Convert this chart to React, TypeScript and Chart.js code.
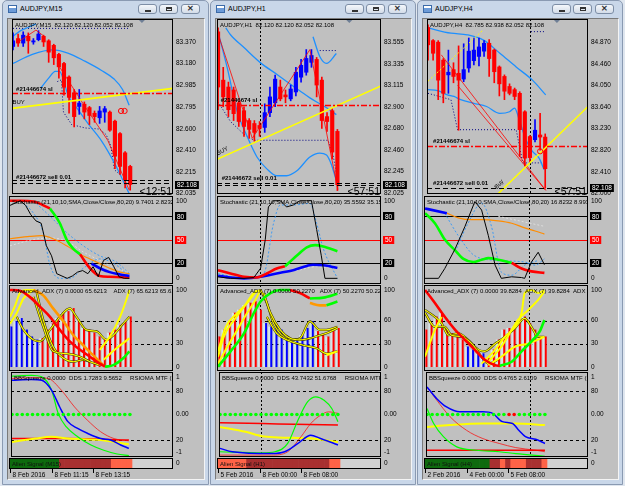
import React, { useEffect, useRef } from "react";
import { Chart, registerables } from "chart.js";

Chart.register(...registerables);

type Pt = [number, number];

/* ======================= AUDJPY,M15 ======================= */
const M15_TITLE = "AUDJPY,M15";
const M15_HEADER = "AUDJPY,M15  82.120 82.120 82.052 82.108";
const M15_STOCH_HEADER = "Stochastic (21,10,10,SMA,Close/Close,80,20) 9.7401 2.8232";
const M15_ADX_HEADER = "Advanced_ADX (7) 0.0000 65.6213    ADX (7) 65.6213 65.6213";
const M15_BB_HEADER = "BBSqueeze 0.0000  DDS 1.7283 9.5652     RSIOMA MTF (M15)";
const M15_ALIEN_TEXT = "Alien Signal (M15)";
const M15_COUNTDOWN = "<12:51";
const M15_OPEN = [83.33, 83.40, 83.36, 83.42, 83.37, 83.39, 83.42, 83.38, 83.34, 83.26, 83.18, 83.06, 82.92, 82.80, 82.82, 82.79, 82.74, 82.70, 82.75, 82.75, 82.67, 82.56, 82.39, 82.27];
const M15_HIGH = [83.45, 83.44, 83.46, 83.45, 83.40, 83.47, 83.43, 83.39, 83.35, 83.27, 83.19, 83.07, 82.95, 82.95, 82.84, 82.80, 82.76, 82.80, 82.80, 82.76, 82.68, 82.57, 82.40, 82.28];
const M15_LOW = [83.30, 83.33, 83.33, 83.27, 83.35, 83.38, 83.33, 83.19, 83.17, 83.05, 82.90, 82.74, 82.62, 82.73, 82.69, 82.64, 82.66, 82.65, 82.66, 82.58, 82.25, 82.20, 82.08, 82.06];
const M15_CLOSE = [83.38, 83.36, 83.43, 83.38, 83.38, 83.44, 83.37, 83.28, 83.23, 83.15, 82.97, 82.88, 82.71, 82.83, 82.75, 82.72, 82.71, 82.76, 82.78, 82.59, 82.36, 82.27, 82.15, 82.11];
const M15_PRICE_TICKS = [83.37, 83.18, 82.985, 82.795, 82.6, 82.41, 82.215, 82.035];
const M15_PRICE_RANGE = [82.026, 83.573];
const M15_BID = 82.108;
const M15_SL = 82.916;
const M15_SELL = [82.153, 82.124];
const M15_MID: Pt[] = [[0, 83.18], [3.8, 83.26], [7.7, 83.30], [10.9, 83.27], [14.1, 83.2], [17.3, 83.12], [19.9, 83.04], [21.5, 82.95], [22.8, 82.81]];
const M15_UPPER: Pt[] = [[0, 83.42], [1.5, 83.47], [3, 83.5], [4.5, 83.53]];
const M15_LOWER: Pt[] = [[5.4, 82.96], [7, 83.05], [8.3, 83.11], [9.1, 83.11], [10.9, 82.89], [12.8, 82.77], [14.7, 82.65], [17.3, 82.5], [19.9, 82.3], [22.8, 82.03]];
const M15_TREND: Pt[] = [[-0.2, 82.783], [31.4, 82.96]];
const M15_RED_A: Pt[] = [[1, 83.37], [4.5, 83.475], [6.1, 83.42]];
const M15_RED_B: Pt[] = [[8.7, 83.18], [14.1, 82.8], [18.6, 82.5], [22.8, 82.06]];
const M15_NAVY_TOP: Pt[] = [[0, 83.49], [22.8, 83.49]];
const M15_NAVY_LOW: Pt[] = [[8.7, 83.02], [9.5, 83.035], [9.9, 82.75], [11.5, 82.64], [14.1, 82.61], [17, 82.6], [18.3, 82.55], [19.2, 82.45], [19.9, 82.24], [21.2, 82.19]];
const M15_MARKS: Pt[] = [[21.2, 82.76], [21.9, 82.76]];
const M15_STO_MAIN: Pt[] = [[0, 94], [1, 97], [2, 100], [3, 94], [4, 82], [5, 74], [6, 71], [7, 42], [8, 29], [9, 6], [10, 3], [11, 0], [12, 3], [13, 8], [14, 10], [15, 6], [16, 15], [17, 2], [18, 23], [19, 27], [20, 15], [21, 2], [22, 0], [23, 0]];
const M15_STO_RED1: Pt[] = [[0, 100], [1.9, 100], [4.5, 99], [7.7, 90]];
const M15_STO_GREEN: Pt[] = [[7.7, 90], [9.6, 71], [10.9, 50], [12.2, 38], [13.5, 31]];
const M15_STO_RED2: Pt[] = [[13.5, 31], [14.1, 25], [15.4, 13], [17.3, 3], [19.2, 2], [23, 1]];
const M15_STO_BLUE: Pt[] = [[15.7, 19], [17.3, 13], [19.2, 8], [21.2, 5], [23, 3]];
const M15_STO_ORANGE: Pt[] = [[0, 51], [3.8, 54], [6.1, 55], [8.3, 51], [10.9, 42], [13.5, 31], [15.4, 25], [17.3, 19], [19.2, 13], [21.2, 8], [23, 6]];
const M15_STO_DOT1: Pt[] = [[1.9, 100], [4.5, 84], [6.4, 59], [7.7, 17], [9.6, 0], [11.5, 0], [14.1, 13], [17.3, 25], [20.5, 17], [23, 2]];
const M15_STO_DOT2: Pt[] = [[4.5, 100], [7.7, 80], [10.9, 59], [14.1, 42], [17.3, 29], [20.5, 21], [23, 6]];
const M15_STO_PALE: Pt[] = [[0, 42], [4.5, 50], [7.7, 52], [10.9, 48], [14.1, 34], [17.3, 23], [20.5, 13], [23, 8]];
const M15_ADX_HIST = [52, 59, 63, 48, 39, 35, 37, 48, 56, 63, 70, 72, 76, 61, 50, 48, 44, 39, 35, 44, 48, 54, 59, 65];
const M15_ADX_HIST_COL = "bbbbbbrrrrrrrrrrrrrrrrrr";
const M15_ADX_RED: Pt[] = [[0, 100], [1.9, 99], [3.8, 91], [5.8, 78], [7.7, 65], [9.6, 48], [11.5, 33], [13.5, 22], [15.4, 13], [17.3, 4], [18.3, 0]];
const M15_ADX_GREEN: Pt[] = [[18.3, 0], [19.9, 2], [21.8, 11], [23, 20]];
const M15_ADX_ORANGE: Pt[] = [[4.5, 100], [6.4, 93], [8.3, 76], [10.3, 59], [12.2, 41], [14.1, 28], [16, 15], [18, 2]];
const M15_ADX_Y: Pt[][] = [
  [[0, 65], [1, 80], [1.9, 96], [3.2, 100], [4.8, 100]],
  [[0, 56], [1.3, 70], [2.6, 89], [4.5, 100]],
  [[17.3, 22], [19.2, 39], [21.2, 65], [22.4, 87], [23, 100]],
  [[18, 9], [20.5, 24], [23, 37]],
];
const M15_ADX_K: Pt[][] = [
  [[1.3, 65], [2.6, 48], [4.5, 35], [5.8, 33], [7.7, 48], [9.6, 65], [11.5, 76], [12.8, 65], [14.7, 48], [16.7, 46], [18.6, 35], [19.9, 41], [21.8, 56], [23, 65]],
  [[5.1, 98], [6.4, 61], [8.3, 26], [10.3, 11], [12.2, 6.5], [14.1, 9], [16, 5], [17.3, 2]],
  [[4.5, 91], [6.4, 52], [8.3, 20], [10.9, 17], [13.5, 13], [15.4, 6.5]],
];
const M15_BB_BLUE: Pt[] = [[0, 0.91], [3.8, 0.93], [5.8, 0.91], [7.7, 0.65], [9.3, 0.2], [10.9, -0.19], [12.8, -0.37], [14.7, -0.5], [17.3, -0.64], [19.2, -0.68], [21.2, -0.81], [22.8, -0.9]];
const M15_BB_GREEN: Pt[] = [[0, 1.02], [3.8, 1.04], [5.8, 1.0], [7.7, 0.65], [9, 0.03], [10.6, -0.33], [12.8, -0.59], [15.4, -0.81], [17.9, -0.95], [20.5, -1.05], [22.8, -1.09]];
const M15_BB_RED_THIN: Pt[] = [[0, 0.96], [4.5, 0.98], [7, 0.96], [9.6, 0.65], [12.2, 0.2], [14.7, -0.15], [17.3, -0.46], [19.9, -0.64], [22.8, -0.7]];
const M15_BB_RED_THICK: Pt[] = [[0, -0.64], [10.9, -0.64], [22.8, -0.68]];
const M15_BB_YELLOW: Pt[] = [[0, -0.73], [4.5, -0.64], [7.7, -0.59], [10.9, -0.64], [17.3, -0.68], [22.8, -0.79]];
const M15_DOTS = "gggggggggggggggggggggggg";
const M15_ALIEN = "ggggggggggddddddddddllll";
const M15_XTICK_POS = [0, 8, 16];
const M15_XTICK_TEXT = ["8 Feb 2016", "8 Feb 11:15", "8 Feb 13:15"];

/* ======================= AUDJPY,H1 ======================= */
const H1_TITLE = "AUDJPY,H1";
const H1_HEADER = "AUDJPY,H1  82.120 82.120 82.052 82.108";
const H1_STOCH_HEADER = "Stochastic (21,10,10,SMA,Close/Close,80,20) 35.5592 35.1554";
const H1_ADX_HEADER = "Advanced_ADX (7) 0.0000 50.2270   ADX (7) 50.2270 50.2270";
const H1_BB_HEADER = "BBSqueeze 0.0000  DDS 43.7432 51.6768     RSIOMA MTF (H1)";
const H1_ALIEN_TEXT = "Alien Signal (H1)";
const H1_COUNTDOWN = "<57:51";
const H1_OPEN = [83.66, 83.17, 83.10, 83.07, 82.94, 82.86, 82.76, 82.73, 82.71, 82.69, 82.84, 82.94, 83.10, 83.02, 82.98, 83.05, 83.20, 83.25, 83.35, 83.38, 83.17, 82.80, 82.86, 82.65];
const H1_HIGH = [83.70, 83.30, 83.15, 83.10, 82.96, 82.90, 82.78, 82.76, 82.75, 82.93, 83.10, 83.22, 83.17, 83.07, 83.12, 83.30, 83.38, 83.48, 83.48, 83.40, 83.20, 82.84, 82.88, 82.67];
const H1_LOW = [82.87, 82.90, 82.80, 82.76, 82.70, 82.60, 82.58, 82.55, 82.60, 82.64, 82.80, 82.90, 82.96, 82.94, 82.96, 83.01, 83.15, 83.22, 83.30, 83.00, 82.68, 82.65, 82.37, 82.05];
const H1_CLOSE = [83.10, 83.00, 82.87, 82.83, 82.75, 82.70, 82.67, 82.64, 82.68, 82.84, 83.00, 83.18, 82.98, 83.00, 83.08, 83.25, 83.32, 83.39, 83.42, 83.12, 82.76, 82.75, 82.44, 82.11];
const H1_PRICE_TICKS = [83.555, 83.335, 83.115, 82.9, 82.68, 82.46, 82.245, 82.025];
const H1_PRICE_RANGE = [82.015, 83.79];
const H1_BID = 82.108;
const H1_SL = 82.92;
const H1_SELL = [82.13, 82.105];
const H1_PERIOD_SEP = 8;
const H1_MID: Pt[] = [[1.5, 83.7], [2.4, 83.63], [5, 83.5], [8.2, 83.345], [11.3, 83.23], [13.9, 83.13], [15.8, 83.06], [17.7, 82.99], [19.6, 82.93], [21.2, 82.88], [22.8, 82.82]];
const H1_LOWER: Pt[] = [[0, 83.66], [1.8, 83.29], [3.7, 82.85], [5.6, 82.6], [7.5, 82.39], [9.4, 82.27], [11.3, 82.2], [13.2, 82.2], [15.2, 82.25], [17.7, 82.39], [19.6, 82.43], [20.9, 82.41], [21.8, 82.32], [22.8, 82.15]];
const H1_UPPER: Pt[] = [[18.3, 83.61], [19.6, 83.41], [20.9, 83.34], [22.8, 83.44]];
const H1_TREND: Pt[] = [[-0.2, 82.367], [31.4, 83.111]];
const H1_RED_A: Pt[] = [[0, 83.64], [6.6, 82.58]];
const H1_RED_B: Pt[] = [[6.6, 82.58], [17.7, 83.48], [23.1, 82.06]];
const H1_NAVY_LOW: Pt[] = [[0, 82.95], [2.4, 82.75], [5, 82.62], [6.9, 82.56], [21.2, 82.56], [22.2, 82.4], [22.8, 82.22]];
const H1_NAVY_TOP: Pt[] = [[19.6, 83.47], [22.8, 83.47]];
const H1_STO_MAIN: Pt[] = [[-0.1, 2], [2.4, 0], [5, 0], [6.9, 1], [8.2, 13], [9.1, 50], [9.7, 92], [10.7, 100], [12, 100], [13.2, 92], [14.5, 94.5], [15.8, 100], [17.1, 100], [18, 100], [19, 63], [19.9, 29], [20.6, 0], [23, 0]];
const H1_STO_RED: Pt[] = [[0, 10.5], [2.4, 6.3], [5, 2], [7.5, 1], [9.4, 6.3], [11.3, 12.6], [12.9, 15.5]];
const H1_STO_GREEN: Pt[] = [[12.9, 15.5], [15.2, 29.4], [17.1, 40], [18.7, 42.8], [20.3, 41], [23, 35]];
const H1_STO_BLUE: Pt[] = [[0, 3.4], [2.4, 1], [5, 0], [8.2, 2], [11.3, 6.3], [14.5, 10.5], [17.1, 16], [18.3, 17.6], [20.3, 16.8], [23, 13.4]];
const H1_STO_DOT1: Pt[] = [[0, 6], [5, 0], [8.8, 6], [10.7, 71], [12, 94.5], [14.5, 94.5], [17.7, 96.6], [19, 71], [20.3, 38], [23, 0]];
const H1_STO_PALE: Pt[] = [[8.2, 2], [11.3, 6], [15.2, 10], [19, 15], [23, 12]];
const H1_ADX_HIST = [39, 48, 59, 70, 74, 80, 83, 85, 74, 56.5, 52, 54, 48, 37, 35, 35, 41, 50, 59, 46, 41, 39, 46, 50];
const H1_ADX_HIST_COL = "rrrrrrrrrbbbbbbbbbbrrrrr";
const H1_ADX_GREEN1: Pt[] = [[0, 0], [2.4, 20], [5, 43.5], [6.9, 70], [8.2, 85], [10.1, 96], [12, 100], [13.9, 100]];
const H1_ADX_RED: Pt[] = [[13.9, 100], [15.8, 96], [17.7, 89]];
const H1_ADX_GREEN2: Pt[] = [[17.7, 89], [20.3, 90], [23, 95]];
const H1_ADX_ORANGE: Pt[] = [[17.7, 83], [19.6, 80], [20.9, 80]];
const H1_ADX_GREEN3: Pt[] = [[20.9, 80], [23, 85]];
const H1_ADX_Y: Pt[][] = [
  [[0, 4], [1.8, 26], [3.7, 48], [5.6, 70], [7.2, 87], [8.2, 100]],
  [[0, 13], [1.1, 39], [3.1, 61], [5, 78], [6.9, 96], [8.2, 100]],
  [[0, 20], [1.5, 52], [3.7, 70], [5.6, 83], [7.5, 100]],
  [[20.9, 15], [23, 20]],
];
const H1_ADX_K: Pt[][] = [
  [[8.2, 100], [9.4, 83], [10.7, 56.5], [12.6, 39], [13.9, 35], [15.8, 37], [17.7, 59], [19.6, 48], [20.9, 48], [23, 52]],
  [[8.8, 96], [10.1, 70], [12, 48], [13.9, 37], [15.8, 35], [17.7, 37], [19.6, 41], [20.9, 43.5], [23, 50]],
  [[9.4, 65], [11.3, 43.5], [13.2, 35], [16.4, 28], [19, 24], [20.9, 17], [23, 20]],
];
const H1_BB_BLUE: Pt[] = [[0, -0.9], [2.4, -0.99], [10.1, -1.04], [12.6, -0.99], [15.2, -0.77], [17.7, -0.55], [19.6, -0.64], [21.5, -0.73], [23, -0.81]];
const H1_BB_GREEN: Pt[] = [[0, -0.99], [8.2, -1.02], [10.7, -0.99], [13.2, -0.77], [15.2, -0.15], [17.1, 0.34], [18.7, 0.47], [20.3, 0.38], [21.8, 0.16], [23, -0.19]];
const H1_BB_RED_THIN: Pt[] = [[0, -1.08], [10.1, -1.08], [13.2, -0.99], [15.8, -0.59], [17.7, -0.24], [19.6, -0.02], [21.2, 0.07], [23, 0.03]];
const H1_BB_RED_THICK: Pt[] = [[0, -0.22], [8.2, -0.24], [14.5, -0.26], [23, -0.28]];
const H1_BB_YELLOW: Pt[] = [[0, -0.33], [5, -0.46], [8.2, -0.58], [11.3, -0.61], [17.7, -0.64], [23, -0.73]];
const H1_DOTS = "gggggggggggggggggggggggg";
const H1_ALIEN = "llllllddddddddddddddddll";
const H1_XTICK_POS = [0, 8, 16];
const H1_XTICK_TEXT = ["5 Feb 2016", "8 Feb 00:00", "8 Feb 08:00"];

/* ======================= AUDJPY,H4 ======================= */
const H4_TITLE = "AUDJPY,H4";
const H4_HEADER = "AUDJPY,H4  82.785 82.938 82.052 82.108";
const H4_STOCH_HEADER = "Stochastic (21,10,10,SMA,Close/Close,80,20) 16.8232 8.9932";
const H4_ADX_HEADER = "Advanced_ADX (7) 0.0000 39.8284  ADX (7) 39.8284  ADX (7)";
const H4_BB_HEADER = "BBSqueeze 0.0000  DDS 0.4765 2.6109     RSIOMA MTF (H4)";
const H4_ALIEN_TEXT = "Alien Signal (H4)";
const H4_COUNTDOWN = "<57:51";
const H4_OPEN = [85.15, 84.90, 84.87, 84.53, 84.25, 84.35, 84.28, 84.17, 84.38, 84.52, 84.60, 84.70, 84.85, 84.72, 84.40, 84.22, 84.03, 83.97, 83.90, 83.55, 83.08, 83.02, 83.11, 83.07];
const H4_HIGH = [85.20, 84.92, 84.90, 84.56, 84.72, 84.48, 84.80, 84.84, 84.95, 84.95, 84.95, 84.90, 84.92, 84.74, 84.42, 84.25, 84.08, 84.00, 83.93, 83.57, 83.10, 83.40, 83.52, 83.13];
const H4_LOW = [84.53, 84.53, 83.78, 83.72, 83.90, 84.10, 83.20, 84.12, 84.30, 84.44, 84.42, 84.60, 84.22, 84.10, 83.85, 83.78, 83.87, 83.78, 82.70, 82.52, 82.60, 82.98, 82.82, 82.10];
const H4_CLOSE = [84.82, 84.66, 84.15, 83.90, 84.30, 84.22, 84.15, 84.35, 84.70, 84.72, 84.78, 84.85, 84.56, 84.31, 84.08, 83.94, 83.90, 83.84, 83.21, 82.67, 82.68, 83.20, 83.07, 82.47];
const H4_PRICE_TICKS = [84.87, 84.46, 84.05, 83.64, 83.23, 82.82, 82.41, 82.0];
const H4_PRICE_RANGE = [81.99, 85.31];
const H4_BID = 82.108;
const H4_SL = 82.908;
const H4_SELL = [82.1];
const H4_PERIOD_SEP = 20;
const H4_UPPER: Pt[] = [[0, 85.14], [4.5, 85.04], [7.7, 85.01], [10.9, 84.91], [14.1, 84.66], [17.3, 84.4], [20.5, 84.15], [23.1, 83.87]];
const H4_LOWER: Pt[] = [[0, 83.97], [1.9, 83.95], [3.8, 83.87], [5.1, 83.84], [6.4, 83.78], [9, 83.71], [11.5, 83.65], [14.1, 83.52], [16, 83.55], [17, 83.62], [17.9, 83.4], [19.2, 83.02], [20.5, 82.8], [21.8, 82.67], [22.8, 82.45]];
const H4_TREND: Pt[] = [[13.8, 82.0], [31.4, 83.65]];
const H4_TREND_DOT: Pt[] = [[0, 84.13], [10.9, 85.11]];
const H4_RED_A: Pt[] = [[2.6, 84.63], [23.1, 82.06]];
const H4_RED_B: Pt[] = [[5.8, 84.05], [23.1, 82.06]];
const H4_NAVY_LOW: Pt[] = [[0, 83.9], [4.5, 83.78], [5.8, 83.21], [17.3, 83.21], [18.6, 82.58], [22.8, 82.58]];
const H4_NAVY_TOP: Pt[] = [[20.2, 85.07], [23.1, 85.07]];
const H4_MARKS: Pt[] = [[22, 82.8]];
const H4_STO_MAIN: Pt[] = [[0, 0], [2.6, 0], [3.8, 12.6], [5.8, 38], [7.7, 67], [9.6, 99], [10.9, 88], [12.2, 55], [13.5, 17], [14.7, 0], [16.7, 2], [18.6, 1], [19.2, 0], [20.5, 21], [21.8, 33.6], [23, 17.6]];
const H4_STO_BLUE: Pt[] = [[0, 90], [4.2, 84]];
const H4_STO_ORANGE: Pt[] = [[4.2, 84], [6.4, 78], [9, 75.6], [10.9, 75.6], [14.1, 74], [16.7, 71], [19.2, 65], [21.2, 61], [23, 57]];
const H4_STO_GREEN: Pt[] = [[0, 84], [1.9, 71], [3.8, 50], [5.8, 36], [7.4, 25], [9.3, 21], [10.9, 24], [12.2, 26], [14.1, 24], [16.7, 20]];
const H4_STO_RED: Pt[] = [[16.7, 20], [18.6, 12.6], [20.5, 9], [23, 7]];
const H4_STO_DOT1: Pt[] = [[3.8, 84], [6.4, 55], [9.6, 29], [14.1, 23], [19.2, 21], [21.2, 17], [23, 25]];
const H4_STO_DOT2: Pt[] = [[5.8, 34], [8.3, 71], [10.9, 97], [12.8, 67], [14.7, 8], [16.7, 4], [19.2, 17], [21.8, 23]];
const H4_STO_PALE: Pt[] = [[14.1, 80], [23, 67]];
const H4_ADX_HIST = [48, 56.5, 65, 70, 48, 43.5, 39, 35, 26, 22, 17, 17, 11, 22, 35, 48, 50, 52, 61, 65, 56.5, 48, 39, 39];
const H4_ADX_HIST_COL = "rrrrrrrrbbbbrrrrrrrrrrrr";
const H4_ADX_RED: Pt[] = [[0, 100], [1.9, 83], [3.8, 65], [5.8, 48], [7.7, 35], [9.6, 22], [11.5, 9], [13.5, 2], [14.4, 1]];
const H4_ADX_GREEN: Pt[] = [[14.4, 1], [16.7, 6.5], [18.6, 20], [20.5, 33], [22.1, 46], [23, 61]];
const H4_ADX_Y: Pt[][] = [
  [[0, 13], [1.9, 48], [3.2, 65]],
  [[10.9, 4], [13.5, 22], [15.4, 39], [17.3, 52], [18.6, 70], [19.2, 96], [20.5, 100], [21.8, 96], [23, 100]],
  [[12.2, 6.5], [14.7, 26], [16.7, 48], [17.9, 61], [19.9, 74], [21.8, 87], [23, 98]],
  [[12.2, 2], [14.7, 13], [17.3, 26], [19.9, 30], [23, 39]],
];
const H4_ADX_K: Pt[][] = [
  [[0, 74], [1.9, 65], [3.2, 56.5], [4.5, 41], [6.4, 43.5], [8.3, 35], [10.3, 22], [11.5, 20], [13.5, 30], [15.4, 39], [17.3, 50], [19.2, 63], [20.5, 52], [21.8, 39], [23, 39]],
  [[0, 70], [1.9, 52], [3.8, 52], [5.1, 41], [7, 39], [9, 30], [10.9, 13], [12.2, 4], [14.1, 9]],
];
const H4_BB_BLUE: Pt[] = [[0, 0.73], [1.9, 0.42], [3.8, 0.2], [6.4, 0.07], [10.9, 0.07], [12.8, 0.03], [14.7, -0.19], [16.7, -0.24], [17.9, -0.42], [19.2, -0.59], [21.2, -0.66], [23, -0.77]];
const H4_BB_GREEN: Pt[] = [[0, 0.16], [1.3, -0.24], [3.2, -0.59], [5.8, -0.86], [9.6, -0.95], [14.1, -0.99], [17.3, -1.04], [23, -1.11]];
const H4_BB_RED_THIN: Pt[] = [[0, 0.73], [1.9, 0.38], [4.5, -0.06], [7.7, -0.42], [10.9, -0.64], [14.1, -0.77], [17.3, -0.88], [21.2, -0.95], [23, -0.99]];
const H4_BB_RED_THICK: Pt[] = [[0, -0.95], [23, -0.95]];
const H4_BB_YELLOW: Pt[] = [[0, -0.33], [4.5, -0.28], [10.9, -0.24], [17.3, -0.24], [23, -0.28]];
const H4_DOTS = "ggggggggggggggggrrgggggg";
const H4_ALIEN = "gggggggggggggddldllldddl";
const H4_XTICK_POS = [0, 8, 16];
const H4_XTICK_TEXT = ["2 Feb 2016", "4 Feb 00:00", "5 Feb 08:00"];

/* ======================= shared ======================= */
const STO_TICKS = [100, 0];
const ADX_TICKS = [100, 60, 30, 0];
const BB_TICKS = [1, 0.628, 0, -0.69, -1];
const BB_TICK_TEXT = ["1", "80", "0.00", "20", "-1"];
const SHIFT_MARK = 25.3;

const FONT = '"Liberation Sans", Arial, sans-serif';
const BULL = "#0000ff";
const BEAR = "#ff0000";
const CHART_BG = "#c0c0c0";
const PAGE_BG = "#dfe6ef";
const FRAME_BG = "#c9d7e9";
const ALIEN_COL: any = { g: "#0e6a0e", d: "#a83030", l: "#ff6347" };
const HIST_COL: any = { b: "#0000ff", r: "#ff0000" };
const DOT_COL: any = { g: "#00ff00", r: "#ff0000" };
const X_MIN = -0.2;
const X_MAX = 31.4;

function hline(ctx: any, a: any, ys: any, l: any) {
  const py = Math.round(ys.getPixelForValue(l.v)) + 0.5;
  ctx.strokeStyle = l.color;
  ctx.lineWidth = l.width || 1;
  ctx.setLineDash(l.dash || []);
  ctx.beginPath();
  ctx.moveTo(a.left, py);
  ctx.lineTo(a.right, py);
  ctx.stroke();
}

const mt4Plugin: any = {
  id: "mt4",
  beforeDatasetsDraw(chart: any, _a: any, o: any) {
    const { ctx, chartArea: a } = chart;
    const xs = chart.scales.x;
    const ys = chart.scales.y;
    ctx.save();
    if (o.areaBg) {
      ctx.fillStyle = o.areaBg;
      ctx.fillRect(a.left, a.top, a.right - a.left, a.bottom - a.top);
    }
    ctx.beginPath();
    ctx.rect(a.left, a.top, a.right - a.left, a.bottom - a.top);
    ctx.clip();
    for (const l of o.levels || []) hline(ctx, a, ys, l);
    if (o.vline != null) {
      const px = Math.round(xs.getPixelForValue(o.vline)) + 0.5;
      ctx.strokeStyle = "#000";
      ctx.lineWidth = 1;
      ctx.setLineDash([2, 2]);
      ctx.beginPath();
      ctx.moveTo(px, a.top);
      ctx.lineTo(px, a.bottom);
      ctx.stroke();
    }
    ctx.restore();
  },
  afterDatasetsDraw(chart: any, _a: any, o: any) {
    const { ctx, chartArea: a } = chart;
    const xs = chart.scales.x;
    const ys = chart.scales.y;
    ctx.save();
    ctx.beginPath();
    ctx.rect(a.left, a.top, a.right - a.left, a.bottom - a.top);
    ctx.clip();
    for (const l of o.overLevels || []) hline(ctx, a, ys, l);
    ctx.setLineDash([]);
    ctx.fillStyle = "#000";
    if (o.header) {
      ctx.font = `6px ${FONT}`;
      ctx.textAlign = "left";
      ctx.textBaseline = "top";
      ctx.fillText(o.header, a.left + 3, a.top + 3);
    }
    if (o.sideText) {
      ctx.font = `6px ${FONT}`;
      ctx.textAlign = "left";
      ctx.textBaseline = "middle";
      ctx.fillStyle = "#111";
      ctx.fillText(o.sideText, a.left + 3, (a.top + a.bottom) / 2 + 0.5);
    }
    for (const t of o.texts || []) {
      const px = xs.getPixelForValue(t.x);
      const py = ys.getPixelForValue(t.y);
      ctx.save();
      ctx.translate(px, py);
      if (t.rot) ctx.rotate(t.rot);
      ctx.font = `${t.bold ? "bold " : ""}6px ${FONT}`;
      ctx.fillStyle = "#000";
      ctx.textAlign = "left";
      ctx.textBaseline = "middle";
      ctx.fillText(t.t, 0, 0);
      ctx.restore();
    }
    if (o.shift != null) {
      const px = xs.getPixelForValue(o.shift);
      ctx.fillStyle = "#6f7f96";
      ctx.beginPath();
      ctx.moveTo(px - 3, a.top + 1);
      ctx.lineTo(px + 3, a.top + 1);
      ctx.lineTo(px, a.top + 4);
      ctx.closePath();
      ctx.fill();
    }
    ctx.restore();

    ctx.save();
    ctx.strokeStyle = "#000";
    ctx.lineWidth = 1;
    ctx.setLineDash([]);
    ctx.strokeRect(a.left + 0.5, a.top + 0.5, a.right - a.left - 1, a.bottom - a.top - 1);
    if (o.countdown) {
      ctx.font = `10.5px ${FONT}`;
      ctx.textAlign = "right";
      ctx.textBaseline = "alphabetic";
      ctx.fillStyle = "#000";
      ctx.fillText(o.countdown, a.right - 1, a.bottom + 1);
    }
    for (const b of o.boxes || []) {
      const py = ys.getPixelForValue(b.v);
      ctx.font = `6.5px ${FONT}`;
      const w = ctx.measureText(b.t).width + 4;
      ctx.fillStyle = b.bg;
      ctx.fillRect(a.right + 2, Math.round(py) - 4, w, 8);
      ctx.fillStyle = b.fg;
      ctx.textAlign = "left";
      ctx.textBaseline = "middle";
      ctx.fillText(b.t, a.right + 4, py + 0.5);
    }
    if (o.xPos) {
      ctx.font = `6.5px ${FONT}`;
      ctx.fillStyle = "#000";
      ctx.textAlign = "left";
      ctx.textBaseline = "top";
      o.xPos.forEach((p: number, i: number) => {
        const px = Math.round(xs.getPixelForValue(p)) + 0.5;
        ctx.beginPath();
        ctx.moveTo(px, a.bottom);
        ctx.lineTo(px, a.bottom + 4);
        ctx.stroke();
        ctx.fillText(o.xText[i], px + 2, a.bottom + 3);
      });
    }
    ctx.restore();
  },
};

function L(pts: Pt[], color: string, width = 1, extra: any = {}) {
  return {
    type: "line",
    data: pts.map(([x, y]) => ({ x, y })),
    borderColor: color,
    borderWidth: width,
    pointRadius: 0,
    fill: false,
    tension: 0,
    cubicInterpolationMode: "monotone",
    clip: 0,
    ...extra,
  };
}
function STRAIGHT(pts: Pt[], color: string, width = 1, extra: any = {}) {
  return L(pts, color, width, { cubicInterpolationMode: "default", ...extra });
}
function candleSets(o: number[], h: number[], l: number[], c: number[]) {
  const col = c.map((v, i) => (v >= o[i] ? BULL : BEAR));
  return [
    { type: "bar", data: o.map((_, i) => ({ x: i, y: [l[i], h[i]] })), backgroundColor: col, maxBarThickness: 1, grouped: false, barPercentage: 1, categoryPercentage: 1, clip: 0 },
    { type: "bar", data: o.map((v, i) => ({ x: i, y: [v, c[i]] })), backgroundColor: col, maxBarThickness: 3.5, grouped: false, barPercentage: 1, categoryPercentage: 1, clip: 0 },
  ];
}
function histSets(vals: number[], codes: string) {
  return [
    { type: "bar", data: vals.map((v, i) => ({ x: i, y: v })), backgroundColor: vals.map((_, i) => HIST_COL[codes[i]]), barThickness: 2, grouped: true, clip: 0 },
    { type: "bar", data: vals.map((v, i) => ({ x: i, y: v })), backgroundColor: "#d5e4ea", barThickness: 1.5, grouped: true, clip: 0 },
  ];
}
function kSets(lines: Pt[][]) {
  const out: any[] = [];
  for (const p of lines) {
    out.push(L(p, "#3d3600", 2.2));
    out.push(L(p, "#ffff00", 1.1));
  }
  return out;
}
function ordered(sets: any[]) {
  const n = sets.length;
  return sets.map((d, i) => ({ ...d, order: n - i }));
}

function opts(yMin: number, yMax: number, ticks: number[], labels: string[], axisW: number, padTop: number, padBottom: number, mt4: any) {
  return {
    responsive: false,
    animation: false,
    devicePixelRatio: 1,
    events: [],
    layout: { padding: { left: 2, right: 0, top: padTop, bottom: padBottom } },
    plugins: { legend: { display: false }, tooltip: { enabled: false }, mt4 },
    scales: {
      x: { type: "linear", min: X_MIN, max: X_MAX, display: false, offset: false },
      y: {
        type: "linear",
        position: "right",
        min: yMin,
        max: yMax,
        grid: { display: false, drawTicks: false },
        border: { display: false },
        afterFit: (s: any) => {
          s.width = axisW;
        },
        afterBuildTicks: (s: any) => {
          s.ticks = ticks.map((v) => ({ value: v }));
        },
        ticks: {
          autoSkip: false,
          padding: 3,
          color: "#000",
          font: { family: FONT, size: 6.5 },
          callback: (_v: any, i: number) => labels[i],
        },
      },
    },
  };
}

const PANE_Y: any = { price: [19, 194], stoch: [196, 284], adx: [285, 371], bb: [372, 457], alien: [458, 469] };
const PAD = 7;

const WINDOWS = [
  { frameL: 2, frameW: 207, innerL: 7, innerW: 198, axisW: 32 },
  { frameL: 210, frameW: 206, innerL: 215, innerW: 197, axisW: 31 },
  { frameL: 417, frameW: 206, innerL: 422, innerW: 197, axisW: 31 },
];

function pricePane(s: any, axisW: number) {
  const sets = ordered([
    ...s.navy.map((p: Pt[]) => STRAIGHT(p, "#000080", 1, { borderDash: [1, 2] })),
    ...s.bands.map((p: Pt[]) => L(p, "#1e90ff", 1.3)),
    ...candleSets(s.open, s.high, s.low, s.close),
    ...s.redThin.map((p: Pt[]) => STRAIGHT(p, "#ff0000", 0.8)),
    ...(s.trendDot ? [STRAIGHT(s.trendDot, "#ffff00", 1, { borderDash: [2, 2] })] : []),
    STRAIGHT(s.trend, "#ffff00", 1.6),
    ...(s.marks
      ? [{ type: "line", data: s.marks.map(([x, y]: Pt) => ({ x, y })), showLine: false, pointRadius: 2.6, pointBorderColor: "#ff0000", pointBackgroundColor: "rgba(0,0,0,0)", pointBorderWidth: 1, clip: 0 }]
      : []),
  ]);
  const [t, b] = PANE_Y.price;
  return {
    top: t - PAD,
    height: b - t + 2 * PAD,
    config: {
      type: "line",
      data: { datasets: sets },
      options: opts(s.range[0], s.range[1], s.ticks, s.ticks.map((v: number) => v.toFixed(3)), axisW, PAD, PAD, {
        header: s.header,
        vline: s.vline,
        overLevels: [
          { v: s.sl, color: "#ff0000", width: 1.5, dash: [6, 2, 2, 2] },
          ...s.sell.map((v: number) => ({ v, color: "#000", width: 1, dash: [5, 3] })),
        ],
        texts: s.texts,
        boxes: [{ v: s.bid, t: s.bid.toFixed(3), bg: "#000", fg: "#fff" }],
        countdown: s.countdown,
        shift: SHIFT_MARK,
      }),
    },
  };
}

function stochPane(s: any, axisW: number) {
  const sets = ordered([
    ...s.stoPale.map((p: Pt[]) => L(p, "#e4e4e4", 0.8, { borderDash: [2, 2] })),
    ...s.stoDots.map((p: Pt[]) => L(p, "#1e90ff", 0.8, { borderDash: [2, 2] })),
    ...s.stoThin.map((d: any) => L(d.p, d.c, 1.2)),
    ...s.stoThick.map((d: any) => L(d.p, d.c, 2.6)),
    STRAIGHT(s.stoMain, "#000", 1),
  ]);
  const [t, b] = PANE_Y.stoch;
  return {
    top: t - PAD,
    height: b - t + 2 * PAD,
    config: {
      type: "line",
      data: { datasets: sets },
      options: opts(-7.3, 106.1, STO_TICKS, STO_TICKS.map(String), axisW, PAD, PAD, {
        header: s.stochHeader,
        vline: s.vline,
        levels: [
          { v: 80, color: "#000", width: 1 },
          { v: 20, color: "#000", width: 1 },
          { v: 50, color: "#ff0000", width: 1.2 },
        ],
        boxes: [
          { v: 80, t: "80", bg: "#000", fg: "#fff" },
          { v: 50, t: "50", bg: "#ff0000", fg: "#fff" },
          { v: 20, t: "20", bg: "#000", fg: "#fff" },
        ],
      }),
    },
  };
}

function adxPane(s: any, axisW: number) {
  const sets = ordered([
    ...histSets(s.adxHist, s.adxHistCol),
    ...kSets(s.adxK),
    ...s.adxY.map((p: Pt[]) => L(p, "#ffff00", 2)),
    ...s.adxThick.map((d: any) => L(d.p, d.c, 2.6)),
  ]);
  const [t, b] = PANE_Y.adx;
  return {
    top: t - PAD,
    height: b - t + 2 * PAD,
    config: {
      type: "line",
      data: { datasets: sets },
      options: opts(-5.6, 106.5, ADX_TICKS, ADX_TICKS.map(String), axisW, PAD, PAD, {
        header: s.adxHeader,
        vline: s.vline,
        levels: [
          { v: 60, color: "#000", width: 1, dash: [3, 3] },
          { v: 30, color: "#000", width: 1, dash: [3, 3] },
        ],
      }),
    },
  };
}

function bbPane(s: any, axisW: number) {
  const codes: string = s.dots;
  const sets = ordered([
    L(s.bbRedThick, "#ff0000", 1.5),
    L(s.bbYellow, "#ffff00", 2),
    L(s.bbRedThin, "#ff0000", 0.7),
    L(s.bbGreen, "#00ff00", 1.2),
    L(s.bbBlue, "#0000ff", 1.5),
    {
      type: "line",
      data: codes.split("").map((_, i) => ({ x: i, y: 0 })),
      showLine: false,
      pointRadius: 1.8,
      pointBorderWidth: 0,
      pointBackgroundColor: codes.split("").map((c) => DOT_COL[c]),
      clip: 0,
    },
  ]);
  const [t, b] = PANE_Y.bb;
  return {
    top: t - PAD,
    height: b - t + 2 * PAD,
    config: {
      type: "line",
      data: { datasets: sets },
      options: opts(-1.13, 1.13, BB_TICKS, BB_TICK_TEXT, axisW, PAD, PAD, {
        header: s.bbHeader,
        vline: s.vline,
        levels: [
          { v: 0.628, color: "#000", width: 1, dash: [3, 3] },
          { v: -0.69, color: "#000", width: 1, dash: [3, 3] },
        ],
      }),
    },
  };
}

function alienPane(s: any, axisW: number) {
  const codes: string = s.alien;
  const sets = [
    {
      type: "bar",
      data: codes.split("").map((_, i) => ({ x: i, y: 1 })),
      backgroundColor: codes.split("").map((c) => ALIEN_COL[c]),
      grouped: false,
      barPercentage: 1,
      categoryPercentage: 1,
      clip: 0,
    },
  ];
  const [t, b] = PANE_Y.alien;
  return {
    top: t - PAD,
    height: b - t + PAD + 14,
    config: {
      type: "line",
      data: { datasets: sets },
      options: opts(0, 1, [0.5], ["0"], axisW, PAD, 14, {
        areaBg: "#d2d2d2",
        sideText: s.alienText,
        xPos: s.xPos,
        xText: s.xText,
      }),
    },
  };
}

const SPECS: any[] = [
  {
    title: M15_TITLE, header: M15_HEADER, stochHeader: M15_STOCH_HEADER, adxHeader: M15_ADX_HEADER, bbHeader: M15_BB_HEADER,
    alienText: M15_ALIEN_TEXT, countdown: M15_COUNTDOWN,
    open: M15_OPEN, high: M15_HIGH, low: M15_LOW, close: M15_CLOSE,
    range: M15_PRICE_RANGE, ticks: M15_PRICE_TICKS, bid: M15_BID, sl: M15_SL, sell: M15_SELL, vline: null,
    navy: [M15_NAVY_TOP, M15_NAVY_LOW], bands: [M15_MID, M15_UPPER, M15_LOWER], redThin: [M15_RED_A, M15_RED_B],
    trend: M15_TREND, marks: M15_MARKS,
    texts: [
      { t: "#21446674 sl", x: 0.6, y: 82.955, bold: true },
      { t: "BUY", x: -0.1, y: 82.84 },
      { t: "#21446672 sell 0.01", x: 0.6, y: 82.175, bold: true },
    ],
    stoMain: M15_STO_MAIN,
    stoThick: [{ p: M15_STO_RED1, c: "#ff0000" }, { p: M15_STO_GREEN, c: "#00ff00" }, { p: M15_STO_RED2, c: "#ff0000" }, { p: M15_STO_BLUE, c: "#0000ff" }],
    stoThin: [{ p: M15_STO_ORANGE, c: "#ff8c00" }],
    stoDots: [M15_STO_DOT1, M15_STO_DOT2], stoPale: [M15_STO_PALE],
    adxHist: M15_ADX_HIST, adxHistCol: M15_ADX_HIST_COL, adxK: M15_ADX_K, adxY: M15_ADX_Y,
    adxThick: [{ p: M15_ADX_ORANGE, c: "#ff9900" }, { p: M15_ADX_RED, c: "#ff0000" }, { p: M15_ADX_GREEN, c: "#00ff00" }],
    bbBlue: M15_BB_BLUE, bbGreen: M15_BB_GREEN, bbRedThin: M15_BB_RED_THIN, bbRedThick: M15_BB_RED_THICK, bbYellow: M15_BB_YELLOW,
    dots: M15_DOTS, alien: M15_ALIEN, xPos: M15_XTICK_POS, xText: M15_XTICK_TEXT,
  },
  {
    title: H1_TITLE, header: H1_HEADER, stochHeader: H1_STOCH_HEADER, adxHeader: H1_ADX_HEADER, bbHeader: H1_BB_HEADER,
    alienText: H1_ALIEN_TEXT, countdown: H1_COUNTDOWN,
    open: H1_OPEN, high: H1_HIGH, low: H1_LOW, close: H1_CLOSE,
    range: H1_PRICE_RANGE, ticks: H1_PRICE_TICKS, bid: H1_BID, sl: H1_SL, sell: H1_SELL, vline: H1_PERIOD_SEP,
    navy: [H1_NAVY_TOP, H1_NAVY_LOW], bands: [H1_MID, H1_UPPER, H1_LOWER], redThin: [H1_RED_A, H1_RED_B],
    trend: H1_TREND, marks: null,
    texts: [
      { t: "#21446674 sl", x: 0.5, y: 82.965, bold: true },
      { t: "BUY", x: -0.2, y: 82.42, rot: -0.5 },
      { t: "#21446672 sell 0.01", x: 0.7, y: 82.17, bold: true },
    ],
    stoMain: H1_STO_MAIN,
    stoThick: [{ p: H1_STO_BLUE, c: "#0000ff" }, { p: H1_STO_RED, c: "#ff0000" }, { p: H1_STO_GREEN, c: "#00ff00" }],
    stoThin: [],
    stoDots: [H1_STO_DOT1], stoPale: [H1_STO_PALE],
    adxHist: H1_ADX_HIST, adxHistCol: H1_ADX_HIST_COL, adxK: H1_ADX_K, adxY: H1_ADX_Y,
    adxThick: [
      { p: H1_ADX_GREEN1, c: "#00ff00" }, { p: H1_ADX_RED, c: "#ff0000" }, { p: H1_ADX_GREEN2, c: "#00ff00" },
      { p: H1_ADX_ORANGE, c: "#ff9900" }, { p: H1_ADX_GREEN3, c: "#00ff00" },
    ],
    bbBlue: H1_BB_BLUE, bbGreen: H1_BB_GREEN, bbRedThin: H1_BB_RED_THIN, bbRedThick: H1_BB_RED_THICK, bbYellow: H1_BB_YELLOW,
    dots: H1_DOTS, alien: H1_ALIEN, xPos: H1_XTICK_POS, xText: H1_XTICK_TEXT,
  },
  {
    title: H4_TITLE, header: H4_HEADER, stochHeader: H4_STOCH_HEADER, adxHeader: H4_ADX_HEADER, bbHeader: H4_BB_HEADER,
    alienText: H4_ALIEN_TEXT, countdown: H4_COUNTDOWN,
    open: H4_OPEN, high: H4_HIGH, low: H4_LOW, close: H4_CLOSE,
    range: H4_PRICE_RANGE, ticks: H4_PRICE_TICKS, bid: H4_BID, sl: H4_SL, sell: H4_SELL, vline: H4_PERIOD_SEP,
    navy: [H4_NAVY_TOP, H4_NAVY_LOW], bands: [H4_UPPER, H4_LOWER], redThin: [H4_RED_A, H4_RED_B],
    trend: H4_TREND, trendDot: H4_TREND_DOT, marks: H4_MARKS,
    texts: [
      { t: "#21446674 sl", x: 1.0, y: 82.98, bold: true },
      { t: "Buy", x: 13.3, y: 82.1, rot: -0.85 },
      { t: "#21446672 sell 0.01", x: 1.0, y: 82.2, bold: true },
    ],
    stoMain: H4_STO_MAIN,
    stoThick: [{ p: H4_STO_GREEN, c: "#00ff00" }, { p: H4_STO_RED, c: "#ff0000" }, { p: H4_STO_BLUE, c: "#0000ff" }],
    stoThin: [{ p: H4_STO_ORANGE, c: "#ff8c00" }],
    stoDots: [H4_STO_DOT1, H4_STO_DOT2], stoPale: [H4_STO_PALE],
    adxHist: H4_ADX_HIST, adxHistCol: H4_ADX_HIST_COL, adxK: H4_ADX_K, adxY: H4_ADX_Y,
    adxThick: [{ p: H4_ADX_RED, c: "#ff0000" }, { p: H4_ADX_GREEN, c: "#00ff00" }],
    bbBlue: H4_BB_BLUE, bbGreen: H4_BB_GREEN, bbRedThin: H4_BB_RED_THIN, bbRedThick: H4_BB_RED_THICK, bbYellow: H4_BB_YELLOW,
    dots: H4_DOTS, alien: H4_ALIEN, xPos: H4_XTICK_POS, xText: H4_XTICK_TEXT,
  },
];

function Pane({ left, top, width, height, config }: any) {
  const ref = useRef<HTMLCanvasElement>(null);
  useEffect(() => {
    const chart = new Chart(ref.current as HTMLCanvasElement, { ...config, plugins: [mt4Plugin] } as any);
    return () => chart.destroy();
  }, []);
  return <canvas ref={ref} width={width} height={height} style={{ position: "absolute", left, top, width, height }} />;
}

function Btn({ left, kind }: any) {
  return (
    <div
      style={{
        position: "absolute", left, top: 4, width: 19, height: 10, boxSizing: "border-box",
        border: "1px solid #7d8ea6", borderRadius: 3,
        background: "linear-gradient(#f4f7fb, #d3dce8)",
      }}
    >
      {kind === "min" && <div style={{ position: "absolute", left: 6, top: 5, width: 6, height: 2, background: "#333" }} />}
      {kind === "max" && (
        <div style={{ position: "absolute", left: 6, top: 2, width: 6, height: 4, boxSizing: "border-box", border: "1px solid #333", borderTopWidth: 2 }} />
      )}
      {kind === "close" && (
        <div style={{ position: "absolute", left: 0, top: -1, width: 17, textAlign: "center", font: `bold 8px ${FONT}`, color: "#333", lineHeight: "10px" }}>✕</div>
      )}
    </div>
  );
}

function ChartWindow({ w, s }: any) {
  const panes = [pricePane(s, w.axisW), stochPane(s, w.axisW), adxPane(s, w.axisW), bbPane(s, w.axisW), alienPane(s, w.axisW)];
  const right = w.frameL + w.frameW;
  return (
    <>
      <div
        style={{
          position: "absolute", left: w.frameL, top: 0, width: w.frameW, height: 485, boxSizing: "border-box",
          background: FRAME_BG, border: "1px solid #8a9ab2", borderRadius: "5px 5px 0 0",
        }}
      />
      <div
        style={{
          position: "absolute", left: w.frameL + 6, top: 5, width: 9, height: 8, boxSizing: "border-box",
          border: "1px solid #3b6aa8", background: "linear-gradient(#ffffff 40%, #6c9bd8 40%)",
        }}
      />
      <div style={{ position: "absolute", left: w.frameL + 18, top: 4, font: `7px ${FONT}`, lineHeight: "10px", color: "#000", whiteSpace: "nowrap" }}>
        {s.title}
      </div>
      <Btn left={right - 71} kind="min" />
      <Btn left={right - 50} kind="max" />
      <Btn left={right - 28} kind="close" />
      <div
        style={{
          position: "absolute", left: w.innerL, top: 18, width: w.innerW, height: 462, boxSizing: "border-box",
          background: CHART_BG, borderTop: "1px solid #7a7a7a", borderLeft: "1px solid #7a7a7a",
          borderRight: "1px solid #f4f4f4", borderBottom: "1px solid #f4f4f4",
        }}
      />
      {panes.map((p, i) => (
        <Pane key={i} left={w.innerL} top={p.top} width={w.innerW} height={p.height} config={p.config} />
      ))}
    </>
  );
}

export default function App() {
  return (
    <div style={{ position: "fixed", left: 0, top: 0, width: 625, height: 486, background: PAGE_BG, overflow: "hidden" }}>
      {WINDOWS.map((w, k) => (
        <ChartWindow key={k} w={w} s={SPECS[k]} />
      ))}
    </div>
  );
}
